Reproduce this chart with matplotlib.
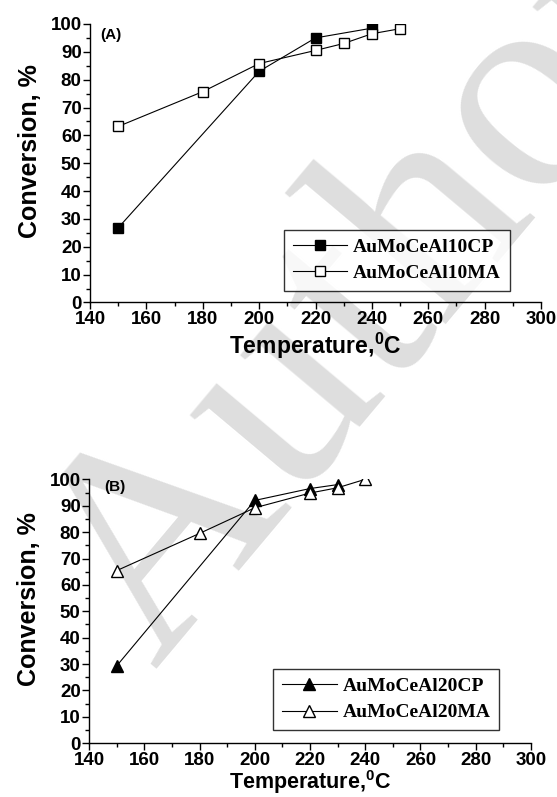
import matplotlib
matplotlib.use("Agg")
import matplotlib.pyplot as plt
from matplotlib.ticker import MultipleLocator

plt.rcParams["font.family"] = ["Liberation Sans", "DejaVu Sans"]
plt.rcParams["font.weight"] = "bold"
plt.rcParams["mathtext.fontset"] = "custom"
plt.rcParams["mathtext.rm"] = "Liberation Sans:bold"
plt.rcParams["mathtext.bf"] = "Liberation Sans:bold"

# panel A data
temp_a_cp = [150, 200, 220, 240]
conv_a_cp = [26.8, 83.0, 95.0, 98.5]
temp_a_ma = [150, 180, 200, 220, 230, 240, 250]
conv_a_ma = [63.2, 75.7, 85.8, 90.5, 93.0, 96.5, 98.3]

# panel B data
temp_b_cp = [150, 200, 220, 230]
conv_b_cp = [29.3, 92.0, 96.5, 98.0]
temp_b_ma = [150, 180, 200, 220, 230, 240]
conv_b_ma = [65.4, 79.5, 89.2, 94.8, 96.8, 100.0]

labels_a = ["AuMoCeAl10CP", "AuMoCeAl10MA"]
labels_b = ["AuMoCeAl20CP", "AuMoCeAl20MA"]

fig = plt.figure(figsize=(5.57, 7.97), dpi=100)

# watermark behind everything
fig.text(0.665, 0.625, "Author", rotation=50, ha="center", va="center",
         fontsize=215, family="Liberation Serif", weight="normal",
         color="#dedede", zorder=-5)

ax_a = fig.add_axes([0.1616, 0.6205, 0.8097, 0.3494])
ax_b = fig.add_axes([0.1598, 0.0674, 0.7935, 0.3312])


def style_axes(ax, xlabel_size):
    ax.patch.set_alpha(0)
    ax.spines["top"].set_visible(False)
    ax.spines["right"].set_visible(False)
    ax.spines["left"].set_linewidth(1.0)
    ax.spines["bottom"].set_linewidth(1.0)
    ax.set_xlim(140, 300)
    ax.set_ylim(0, 100)
    ax.xaxis.set_major_locator(MultipleLocator(20))
    ax.xaxis.set_minor_locator(MultipleLocator(10))
    ax.yaxis.set_major_locator(MultipleLocator(10))
    ax.yaxis.set_minor_locator(MultipleLocator(5))
    ax.tick_params(which="major", direction="out", length=5, width=1.0,
                   labelsize=13.5, pad=1)
    ax.tick_params(which="minor", direction="out", length=3, width=1.0)
    for lab in ax.get_xticklabels() + ax.get_yticklabels():
        lab.set_fontweight("bold")
    ax.set_ylabel("Conversion, %", fontsize=18, fontweight="bold", labelpad=6)
    ax.yaxis.label.set_y(0.545)
    ax.set_xlabel(r"Temperature,$^{0}$C", fontsize=xlabel_size,
                  fontweight="bold", labelpad=0)


def add_legend(ax, anchor):
    leg = ax.legend(loc="lower right", bbox_to_anchor=anchor,
                    prop={"family": "Liberation Serif", "weight": "bold", "size": 14},
                    frameon=True, fancybox=False, edgecolor="black",
                    handlelength=2.8, handletextpad=0.3, labelspacing=0.45,
                    borderpad=0.45, borderaxespad=0)
    leg.get_frame().set_linewidth(1.0)


# ---- panel A
ax_a.plot(temp_a_cp, conv_a_cp, color="black", lw=0.8, marker="s",
          ms=7, mfc="black", mec="black", label=labels_a[0], zorder=3)
ax_a.plot(temp_a_ma, conv_a_ma, color="black", lw=0.8, marker="s",
          ms=7, mfc="white", mec="black", mew=1.0, label=labels_a[1], zorder=4)
style_axes(ax_a, 16.5)
ax_a.xaxis.labelpad = 2
ax_a.text(0.022, 0.96, "(A)", transform=ax_a.transAxes, fontsize=11,
          fontweight="bold", ha="left", va="center")
add_legend(ax_a, (0.931, 0.041))

# ---- panel B
ax_b.plot(temp_b_cp, conv_b_cp, color="black", lw=0.8, marker="^",
          ms=8, mfc="black", mec="black", label=labels_b[0], zorder=3)
ax_b.plot(temp_b_ma, conv_b_ma, color="black", lw=0.8, marker="^",
          ms=8, mfc="white", mec="black", mew=1.0, label=labels_b[1], zorder=4)
style_axes(ax_b, 15.5)
ax_b.xaxis.labelpad = -0.5
ax_b.text(0.034, 0.972, "(B)", transform=ax_b.transAxes, fontsize=11,
          fontweight="bold", ha="left", va="center")
add_legend(ax_b, (0.928, 0.05))

fig.savefig("out.png", dpi=100)
